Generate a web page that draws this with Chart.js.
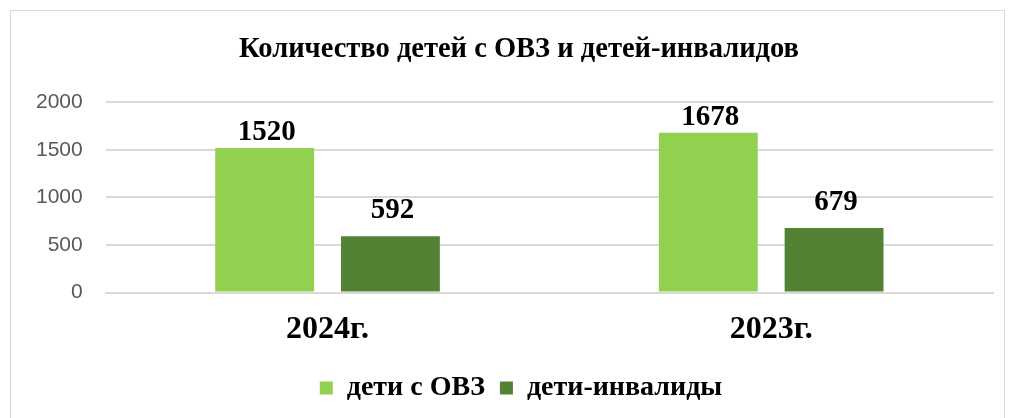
<!DOCTYPE html>
<html>
<head>
<meta charset="utf-8">
<script src="https://cdn.jsdelivr.net/npm/chart.js@4"></script>
<style>
  html, body { margin: 0; padding: 0; background: #fff; overflow: hidden; }
  #wrap {
    position: absolute; left: 10px; top: 10px;
    width: 995px; height: 420px;
    border: 1px solid #d9d9d9; box-sizing: border-box;
  }
  canvas { display: block; }
</style>
</head>
<body>
<div id="wrap"><canvas id="chart"></canvas></div>
<script>
const years = ["2024г.", "2023г."];
const ovz = [1520, 1678];
const invalid = [592, 679];
const yTicks = [0, 500, 1000, 1500, 2000];

const serif = "'Liberation Serif', 'Times New Roman', serif";

// подписи значений над столбцами
const valueLabels = {
  id: "valueLabels",
  afterDatasetsDraw(chart) {
    const ctx = chart.ctx;
    const gap = [8, 18];
    ctx.save();
    ctx.font = "bold 29px " + serif;
    ctx.fillStyle = "#000";
    ctx.textAlign = "center";
    ctx.textBaseline = "alphabetic";
    chart.data.datasets.forEach((ds, i) => {
      chart.getDatasetMeta(i).data.forEach((bar, j) => {
        ctx.fillText(ds.data[j], bar.x + 2, bar.y - gap[i]);
      });
    });
    ctx.restore();
  }
};

// в оригинале заголовок и легенда чуть смещены вправо
const shiftBlocks = {
  id: "shiftBlocks",
  afterLayout(chart) {
    chart.titleBlock.left += 32;
    chart.legend.left += 36;
    chart.legend.adjustHitBoxes && chart.legend.adjustHitBoxes();
  }
};

new Chart(document.getElementById("chart"), {
  type: "bar",
  data: {
    labels: years,
    datasets: [
      { label: "дети с ОВЗ", data: ovz, backgroundColor: "#92d050" },
      { label: "дети-инвалиды", data: invalid, backgroundColor: "#548235" }
    ]
  },
  options: {
    responsive: true,
    maintainAspectRatio: false,
    animation: false,
    categoryPercentage: 0.567,
    barPercentage: 0.786,
    layout: { padding: { left: 2, right: 11, top: 0, bottom: 17 } },
    plugins: {
      title: {
        display: true,
        text: "Количество детей с ОВЗ и детей-инвалидов",
        color: "#000",
        font: { family: serif, size: 28.5, weight: "bold" },
        padding: { top: 22, bottom: 35 }
      },
      legend: {
        position: "bottom",
        labels: {
          color: "#000",
          boxWidth: 13, boxHeight: 13,
          padding: 15,
          font: { family: serif, size: 28, weight: "bold" }
        }
      },
      tooltip: { enabled: false }
    },
    scales: {
      x: {
        grid: { display: false },
        border: { color: "#d9d9d9", width: 2 },
        ticks: {
          color: "#000", padding: 10,
          font: { family: serif, size: 32, weight: "bold" }
        }
      },
      y: {
        min: 0, max: 2000,
        afterBuildTicks: axis => { axis.ticks = yTicks.map(v => ({ value: v })); },
        grid: { color: "#d9d9d9", lineWidth: 2, drawTicks: false },
        border: { display: false },
        ticks: {
          color: "#595959", padding: 23,
          callback: v => String(v),
          font: { family: "'Liberation Sans', Arial, sans-serif", size: 21 }
        }
      }
    }
  },
  plugins: [valueLabels, shiftBlocks]
});
</script>
</body>
</html>
